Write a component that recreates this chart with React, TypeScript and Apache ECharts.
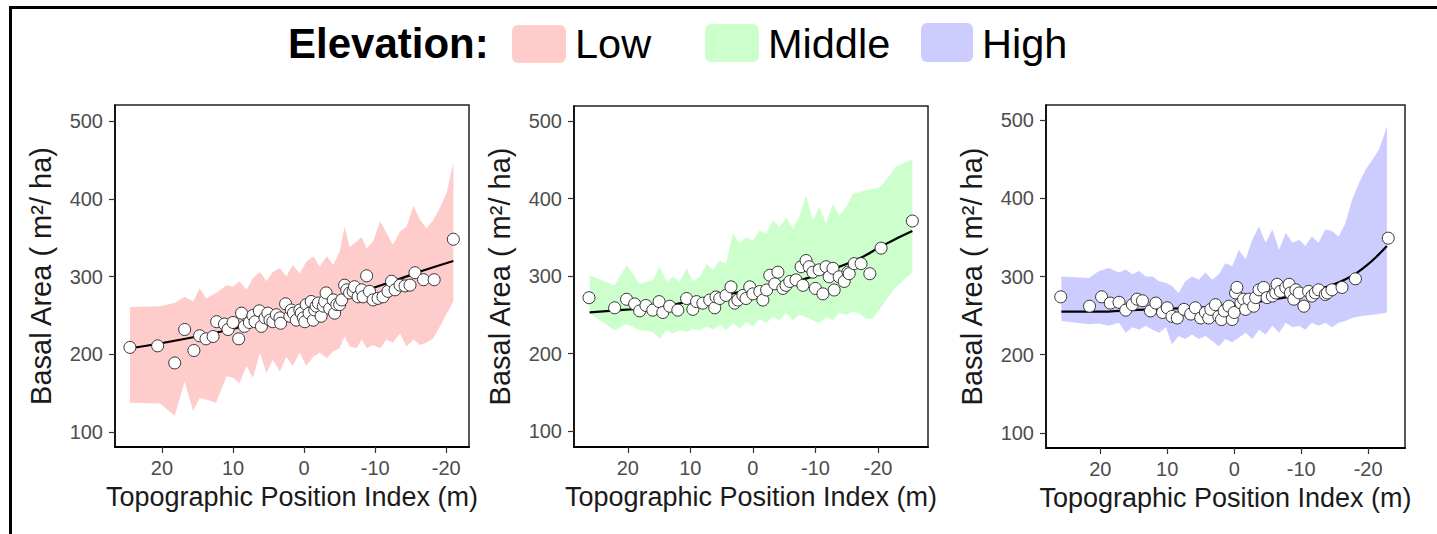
import React, { useEffect, useRef } from "react";
import * as echarts from "echarts";

const FONT = '"Liberation Sans", Arial, Helvetica, sans-serif';

// ---------- tick labels / titles ----------
const X_TICKS = [20, 10, 0, -10, -20];
const Y_TICKS = [100, 200, 300, 400, 500];
const X_TITLE = "Topographic Position Index (m)";
const Y_TITLE = "Basal Area ( m\u00B2/ ha)";
const LEGEND_TITLE = "Elevation:";
const LEGEND_NAMES = ["Low", "Middle", "High"];
const COLORS = ["#FFCCCC", "#CCFFCC", "#CCCCFF"];

// ---------- LOW elevation ----------
const LOW_BAND_X = [24.5, 20.3, 18.2, 16.8, 15.6, 14.7, 13.8, 12.4, 10.9, 10.0, 9.1, 8.1, 7.2, 6.2, 5.3, 4.4, 3.4, 2.5, 1.6, 0.6, -0.3, -1.3, -2.2, -3.2, -4.1, -5.0, -5.7, -6.4, -7.4, -8.1, -8.8, -9.7, -10.7, -11.6, -12.5, -13.5, -14.4, -15.4, -16.3, -17.2, -18.2, -19.1, -20.1, -21.0];
const LOW_BAND_UPPER = [261, 262, 266, 274, 268, 285, 272, 279, 289, 287, 294, 283, 298, 306, 294, 306, 311, 300, 315, 304, 319, 326, 313, 326, 315, 332, 364, 338, 345, 351, 336, 345, 371, 356, 341, 358, 364, 391, 373, 362, 373, 388, 409, 447];
const LOW_BAND_LOWER = [138, 137, 121, 165, 127, 144, 142, 138, 172, 170, 163, 185, 170, 202, 176, 193, 178, 197, 185, 202, 185, 197, 202, 195, 204, 208, 223, 210, 208, 219, 208, 212, 208, 219, 215, 227, 210, 219, 212, 215, 221, 236, 253, 268];
const LOW_FIT_X = [24.5, 20.3, 15.6, 10.9, 6.2, 1.6, -3.2, -7.9, -12.5, -17.2, -21.0];
const LOW_FIT_Y = [208, 214, 222, 231, 242, 253, 265, 280, 294, 309, 320];
const LOW_PTS_X = [24.5, 20.6, 18.2, 16.8, 15.5, 14.7, 13.8, 12.8, 12.3, 11.2, 10.7, 10.0, 9.2, 8.8, 8.4, 7.7, 7.2, 6.9, 6.3, 6.0, 5.5, 5.1, 4.8, 4.4, 3.9, 3.4, 3.3, 2.6, 2.0, 1.8, 1.5, 1.1, 0.6, 0.4, 0.1, -0.1, -0.3, -0.7, -1.0, -1.3, -1.5, -1.7, -2.0, -2.4, -2.7, -2.9, -3.1, -3.6, -4.1, -4.3, -4.6, -5.0, -5.3, -5.7, -6.0, -6.4, -6.9, -7.1, -7.6, -8.1, -8.3, -8.8, -9.2, -9.7, -10.4, -11.1, -11.8, -12.3, -12.8, -13.5, -14.2, -14.9, -15.6, -16.8, -18.3, -21.0];
const LOW_PTS_Y = [209, 211, 189, 232, 205, 224, 220, 223, 242, 239, 232, 241, 220, 253, 236, 241, 250, 242, 256, 236, 247, 253, 244, 242, 251, 247, 240, 265, 249, 257, 253, 244, 257, 253, 247, 242, 264, 253, 268, 244, 257, 262, 266, 249, 262, 268, 279, 259, 270, 253, 264, 264, 270, 289, 283, 279, 281, 287, 274, 283, 274, 301, 281, 270, 272, 274, 281, 294, 283, 289, 288, 289, 305, 296, 296, 348];

// ---------- MIDDLE elevation ----------
const MID_BAND_X = [26.1, 22.1, 20.2, 18.1, 16.0, 14.9, 13.8, 12.8, 11.7, 10.6, 9.6, 8.5, 7.4, 6.4, 5.3, 4.3, 3.2, 2.1, 1.1, 0, -1.1, -2.1, -3.2, -4.3, -5.3, -6.4, -7.4, -8.5, -9.6, -10.6, -11.7, -12.8, -13.8, -14.9, -16.0, -17.0, -18.1, -19.1, -20.2, -21.3, -22.9, -25.5];
const MID_BAND_UPPER = [301, 288, 314, 290, 295, 312, 293, 299, 293, 310, 293, 299, 316, 308, 320, 316, 355, 342, 350, 346, 359, 355, 372, 363, 376, 361, 376, 404, 372, 389, 368, 393, 378, 389, 406, 408, 411, 412, 414, 424, 441, 451];
const MID_BAND_LOWER = [252, 230, 238, 230, 228, 219, 230, 226, 230, 228, 232, 230, 235, 231, 237, 230, 239, 232, 241, 235, 245, 239, 247, 243, 252, 243, 250, 247, 243, 239, 247, 243, 252, 250, 254, 252, 245, 245, 256, 269, 286, 305];
const MID_FIT_X = [26.1, 19.7, 14.4, 9.0, 3.7, -1.6, -6.9, -12.2, -17.6, -20.2, -22.9, -25.5];
const MID_FIT_Y = [253, 257, 261, 269, 277, 284, 293, 307, 325, 337, 348, 358];
const MID_PTS_X = [26.2, 22.1, 20.2, 18.9, 18.1, 17.1, 16.0, 15.0, 14.4, 13.3, 12.0, 10.6, 9.6, 9.0, 8.0, 6.9, 6.1, 5.9, 5.3, 4.3, 3.5, 2.9, 2.4, 1.6, 1.1, 0.5, 0.0, -1.1, -1.6, -2.2, -2.7, -3.5, -4.0, -4.8, -5.3, -5.9, -6.9, -7.7, -8.0, -8.5, -9.0, -9.6, -10.0, -10.6, -11.2, -11.7, -12.2, -12.8, -13.0, -13.8, -14.6, -15.2, -15.4, -16.2, -17.3, -18.7, -20.5, -25.5];
const MID_PTS_Y = [272, 259, 270, 264, 255, 262, 256, 267, 253, 261, 256, 271, 257, 267, 265, 269, 259, 273, 271, 275, 286, 265, 269, 275, 271, 286, 277, 280, 269, 282, 301, 290, 305, 284, 288, 293, 295, 312, 288, 320, 312, 305, 284, 308, 277, 312, 299, 310, 282, 299, 293, 305, 303, 316, 316, 303, 336, 371];

// ---------- HIGH elevation ----------
const HIGH_BAND_X = [25.8, 21.7, 20.2, 18.7, 17.2, 16.2, 15.2, 14.2, 13.2, 12.2, 11.2, 10.2, 9.3, 8.3, 7.3, 6.3, 5.3, 4.3, 3.3, 2.3, 1.3, 0.3, -0.7, -1.7, -2.7, -3.7, -4.7, -5.7, -6.7, -7.7, -8.7, -9.7, -10.6, -11.6, -12.6, -13.6, -14.6, -15.6, -16.6, -17.6, -18.6, -19.6, -20.6, -21.6, -22.3, -22.8];
const HIGH_BAND_UPPER = [300, 298, 307, 311, 305, 309, 303, 307, 300, 300, 294, 292, 288, 279, 294, 300, 296, 305, 296, 303, 317, 313, 334, 322, 347, 364, 343, 360, 334, 356, 343, 347, 339, 351, 343, 360, 358, 351, 368, 398, 419, 436, 449, 462, 479, 492];
const HIGH_BAND_LOWER = [243, 239, 240, 237, 241, 228, 235, 232, 237, 232, 228, 235, 213, 224, 220, 226, 220, 224, 218, 211, 220, 216, 222, 228, 220, 232, 226, 237, 228, 241, 235, 237, 232, 241, 237, 241, 235, 241, 243, 247, 249, 250, 251, 252, 253, 254];
const HIGH_FIT_X = [25.8, 20.2, 15.2, 10.2, 5.3, 0.3, -4.7, -9.7, -14.6, -17.6, -19.6, -21.2, -22.8];
const HIGH_FIT_Y = [255, 255, 257, 259, 260, 264, 269, 277, 289, 301, 313, 325, 339];
const HIGH_PTS_X = [25.9, 21.6, 19.8, 18.5, 17.2, 16.2, 15.2, 14.5, 13.7, 12.5, 11.7, 10.7, 10.0, 9.3, 8.5, 7.5, 6.5, 5.8, 5.0, 4.3, 3.8, 3.5, 2.8, 2.3, 1.9, 1.5, 0.8, 0.3, 0.0, -0.2, -0.4, -1.0, -1.4, -1.7, -2.2, -2.9, -3.2, -3.7, -4.4, -4.9, -5.7, -6.2, -6.4, -6.9, -7.7, -8.2, -8.4, -8.9, -9.2, -9.7, -10.4, -11.1, -11.6, -12.1, -12.6, -13.6, -13.9, -14.6, -16.1, -18.1, -23.0];
const HIGH_PTS_Y = [274, 262, 274, 266, 267, 257, 264, 271, 269, 256, 266, 254, 260, 249, 247, 258, 252, 260, 247, 254, 247, 258, 264, 249, 245, 256, 262, 245, 254, 279, 286, 266, 271, 258, 271, 262, 273, 283, 286, 273, 275, 279, 290, 281, 286, 290, 279, 271, 283, 279, 262, 281, 275, 279, 283, 277, 279, 283, 286, 297, 349];

const PANELS = [
  { bx: LOW_BAND_X, hi: LOW_BAND_UPPER, lo: LOW_BAND_LOWER, fx: LOW_FIT_X, fy: LOW_FIT_Y, px: LOW_PTS_X, py: LOW_PTS_Y, color: COLORS[0],
    grid: { left: 115, top: 105, width: 354, height: 342 }, xMin: -23.2, xMax: 26.6, yMin: 81, yMax: 520.5 },
  { bx: MID_BAND_X, hi: MID_BAND_UPPER, lo: MID_BAND_LOWER, fx: MID_FIT_X, fy: MID_FIT_Y, px: MID_PTS_X, py: MID_PTS_Y, color: COLORS[1],
    grid: { left: 574, top: 106, width: 354, height: 341 }, xMin: -28.0, xMax: 28.6, yMin: 79.4, yMax: 519.4 },
  { bx: HIGH_BAND_X, hi: HIGH_BAND_UPPER, lo: HIGH_BAND_LOWER, fx: HIGH_FIT_X, fy: HIGH_FIT_Y, px: HIGH_PTS_X, py: HIGH_PTS_Y, color: COLORS[2],
    grid: { left: 1046, top: 105, width: 359, height: 343 }, xMin: -25.5, xMax: 28.1, yMin: 80.8, yMax: 519.2 },
];

function buildOption() {
  const grid: any[] = [];
  const xAxis: any[] = [];
  const yAxis: any[] = [];
  const series: any[] = [];

  PANELS.forEach((p, i) => {
    grid.push({ ...p.grid, show: true, borderColor: "#222", borderWidth: 1.5, backgroundColor: "transparent" });
    xAxis.push({
      gridIndex: i, type: "value", inverse: true, min: p.xMin, max: p.xMax,
      axisLine: { show: true, onZero: false, lineStyle: { color: "#000", width: 2 } },
      axisTick: { show: true, length: 6, customValues: X_TICKS, lineStyle: { color: "#333", width: 1.2 } },
      axisLabel: { customValues: X_TICKS, fontSize: 20, color: "#4d4d4d", margin: 11, fontFamily: FONT },
      splitLine: { show: false },
      name: X_TITLE, nameLocation: "middle", nameGap: 36,
      nameTextStyle: { fontSize: 27, color: "#1a1a1a", fontFamily: FONT },
    });
    yAxis.push({
      gridIndex: i, type: "value", min: p.yMin, max: p.yMax,
      axisLine: { show: true, onZero: false, lineStyle: { color: "#000", width: 1.5 } },
      axisTick: { show: true, length: 6, customValues: Y_TICKS, lineStyle: { color: "#333", width: 1.2 } },
      axisLabel: { customValues: Y_TICKS, fontSize: 20, color: "#4d4d4d", margin: 12, fontFamily: FONT },
      splitLine: { show: false },
      name: Y_TITLE, nameLocation: "middle", nameGap: 60,
      nameTextStyle: { fontSize: 29, color: "#1a1a1a", fontFamily: FONT },
    });
    const bx = p.bx, hi = p.hi, lo = p.lo, col = p.color;
    series.push({
      type: "custom", xAxisIndex: i, yAxisIndex: i, silent: true, z: 1,
      data: [[bx[0], lo[0]]],
      renderItem: (params: any, api: any) => {
        if (params.dataIndex !== 0) return null;
        const pts: number[][] = [];
        for (let k = 0; k < bx.length; k++) pts.push(api.coord([bx[k], hi[k]]));
        for (let k = bx.length - 1; k >= 0; k--) pts.push(api.coord([bx[k], lo[k]]));
        return { type: "polygon", shape: { points: pts }, style: { fill: col } };
      },
    });
    series.push({
      type: "line", xAxisIndex: i, yAxisIndex: i, z: 3, smooth: 0.4,
      symbol: "none", showSymbol: false,
      data: p.fx.map((x, k) => [x, p.fy[k]]),
      lineStyle: { color: "#000", width: 2.2 },
    });
    series.push({
      type: "scatter", xAxisIndex: i, yAxisIndex: i, z: 4,
      symbol: "circle", symbolSize: 12,
      data: p.px.map((x, k) => [x, p.py[k]]),
      itemStyle: { color: "#fff", borderColor: "#333", borderWidth: 1, opacity: 1 },
    });
  });

  const legendBoxes = [
    { x: 512, y: 25, w: 54, h: 38, tx: 575 },
    { x: 705, y: 24, w: 54, h: 38, tx: 768 },
    { x: 921, y: 23, w: 52, h: 39, tx: 982 },
  ];
  const graphic: any[] = [
    { type: "line", shape: { x1: 9, y1: 7.5, x2: 1437, y2: 7.5 }, style: { stroke: "#000", lineWidth: 3 }, z: 100 },
    { type: "line", shape: { x1: 10.5, y1: 6, x2: 10.5, y2: 534 }, style: { stroke: "#000", lineWidth: 3 }, z: 100 },
    { type: "text", x: 288, y: 43, style: { text: LEGEND_TITLE, font: `bold 42px ${FONT}`, fill: "#000", verticalAlign: "middle", align: "left" }, z: 100 },
  ];
  legendBoxes.forEach((b, k) => {
    graphic.push({ type: "rect", shape: { x: b.x, y: b.y, width: b.w, height: b.h, r: 6 }, style: { fill: COLORS[k] }, z: 100 });
    graphic.push({ type: "text", x: b.tx, y: 43, style: { text: LEGEND_NAMES[k], font: `41.5px ${FONT}`, fill: "#000", verticalAlign: "middle", align: "left" }, z: 100 });
  });

  return {
    animation: false,
    backgroundColor: "#fff",
    textStyle: { fontFamily: FONT },
    grid, xAxis, yAxis, series, graphic,
  };
}

export default function App() {
  const ref = useRef<HTMLDivElement>(null);
  useEffect(() => {
    if (!ref.current) return;
    const chart = echarts.init(ref.current, null, { renderer: "svg" });
    chart.setOption(buildOption() as any);
    return () => chart.dispose();
  }, []);
  return (
    <div
      ref={ref}
      style={{ position: "fixed", left: 0, top: 0, width: 1437, height: 534, background: "#fff" }}
    />
  );
}
